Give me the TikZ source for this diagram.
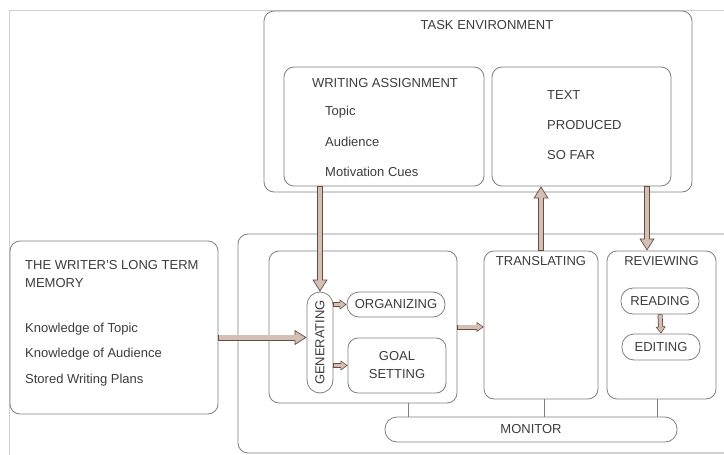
\documentclass[tikz,border=0pt]{standalone}
\usepackage{fontspec}
\setmainfont{Liberation Sans}
\usepackage{graphicx}
\usetikzlibrary{arrows.meta,calc}
\definecolor{boxline}{HTML}{7F7F7F}
\definecolor{frameline}{HTML}{D0D0D0}
\definecolor{txt}{HTML}{3C3C3C}
\definecolor{arrdark}{HTML}{6B4B3E}
\definecolor{arrfill}{HTML}{D2BFB5}
\tikzset{
  box/.style={draw=boxline, line width=0.8pt, rounded corners=10pt, rectangle, inner sep=0pt, text=txt},
  pill/.style={draw=boxline, line width=0.8pt, rounded corners=12pt, rectangle, inner sep=0pt, text=txt, font=\fontsize{13}{15}\selectfont},
  lbl/.style={text=txt, inner sep=0pt, font=\fontsize{13}{15}\selectfont},
  bigarr/.style={draw=arrdark, line width=0.7pt,
    -{Triangle[length=12pt,width=15pt,fill=arrfill]},
    preaction={draw=arrdark, line width=6pt, arrows=-, shorten >=10pt},
    postaction={draw=arrfill, line width=4.2pt, arrows=-, shorten >=11pt, shorten <=0.9pt}},
  smallarr/.style={draw=arrdark, line width=0.6pt,
    -{Triangle[length=7pt,width=10pt,fill=arrfill]},
    preaction={draw=arrdark, line width=5pt, arrows=-, shorten >=5pt},
    postaction={draw=arrfill, line width=3.4pt, arrows=-, shorten >=6pt, shorten <=0.8pt}},
  conn/.style={draw=boxline, line width=0.8pt}
}
\begin{document}
\begin{tikzpicture}[x=1pt,y=-1pt]
\useasboundingbox (0,0) rectangle (724,455);
\begin{scope}
\clip (0,0) rectangle (724,455);
% light frame
\draw[frameline, line width=0.8pt] (9,455) -- (9,10) -- (724,10);
% task environment
\node[box, minimum width=428pt, minimum height=181pt] (task) at (478,101.5) {};
\node[lbl] (tasktitle) at (487,25) {TASK ENVIRONMENT};
\node[box, minimum width=200pt, minimum height=119pt] (assign) at (384,126.5) {};
\node[lbl] (assigntitle) at (385,83) {WRITING ASSIGNMENT};
\node[lbl, anchor=west] (topic) at (325,112) {Topic};
\node[lbl, anchor=west] (aud) at (325,142) {Audience};
\node[lbl, anchor=west] (motiv) at (325,172) {Motivation Cues};
\node[box, minimum width=179pt, minimum height=119pt] (textbox) at (581.5,126.5) {};
\node[lbl, anchor=west] (t1) at (547,95) {TEXT};
\node[lbl, anchor=west] (t2) at (547,125) {PRODUCED};
\node[lbl, anchor=west] (t3) at (547,155) {SO FAR};
% processes
\node[box, minimum width=502pt, minimum height=219pt] (procs) at (489,343.5) {};
\node[box, minimum width=188pt, minimum height=152pt] (gengroup) at (363,327) {};
\node[pill, rounded corners=13pt, minimum width=26pt, minimum height=101pt] (gen) at (320,342.5) {\rotatebox{90}{GENERATING}};
\node[pill, minimum width=98pt, minimum height=25pt] (org) at (396,304.5) {ORGANIZING};
\node[box, minimum width=98pt, minimum height=55pt, align=center, font=\fontsize{13}{18}\selectfont] (goal) at (397,365.5) {GOAL\\SETTING};
\node[box, minimum width=114pt, minimum height=148pt] (trans) at (541,325) {};
\node[lbl] (transtitle) at (541,261) {TRANSLATING};
\node[box, minimum width=109pt, minimum height=148pt] (review) at (661.5,325) {};
\node[lbl] (reviewtitle) at (661.5,261) {REVIEWING};
\node[pill, minimum width=78pt, minimum height=26pt] (reading) at (660,301) {READING};
\node[pill, minimum width=78pt, minimum height=26pt] (editing) at (661,347) {EDITING};
\node[pill, minimum width=292pt, minimum height=25pt] (monitor) at (531,429.5) {MONITOR};
% memory
\node[box, minimum width=208pt, minimum height=173pt] (memory) at (114,327.5) {};
\node[lbl, anchor=west] (m1) at (25,265) {THE WRITER'S LONG TERM};
\node[lbl, anchor=west] (m2) at (25,283) {MEMORY};
\node[lbl, anchor=west] (m3) at (25,329) {Knowledge of Topic};
\node[lbl, anchor=west] (m4) at (25,354) {Knowledge of Audience};
\node[lbl, anchor=west] (m5) at (25,380) {Stored Writing Plans};
% helper coordinates
\coordinate (gm) at ($(gengroup.south)+(45,0)$);
\coordinate (tm) at ($(trans.south)+(3,0)$);
\coordinate (rm) at ($(review.south)+(-4.5,0)$);
\coordinate (memout) at ($(memory.east)+(0,10)$);
\coordinate (txtout) at ($(textbox.south)+(65.5,0)$);
% monitor connectors
\draw[conn] (gm) -- (gm |- monitor.north);
\draw[conn] (tm) -- (tm |- monitor.north);
\draw[conn] (rm) -- (rm |- monitor.north);
% arrows
\draw[bigarr] (assign.south -| gen.north) -- (gen.north);
\draw[bigarr] (memout) -- (memout -| gen.west);
\draw[smallarr] (gen.east |- org.west) -- (org.west);
\draw[smallarr] (gen.east |- goal.west) -- (goal.west);
\draw[smallarr] (gengroup.east) -- (gengroup.east -| trans.west);
\draw[bigarr] (trans.north) -- (trans.north |- textbox.south);
\draw[bigarr] (txtout) -- (txtout |- review.north);
\draw[smallarr] (reading.south) -- (editing.north);
\end{scope}
\end{tikzpicture}
\end{document}
